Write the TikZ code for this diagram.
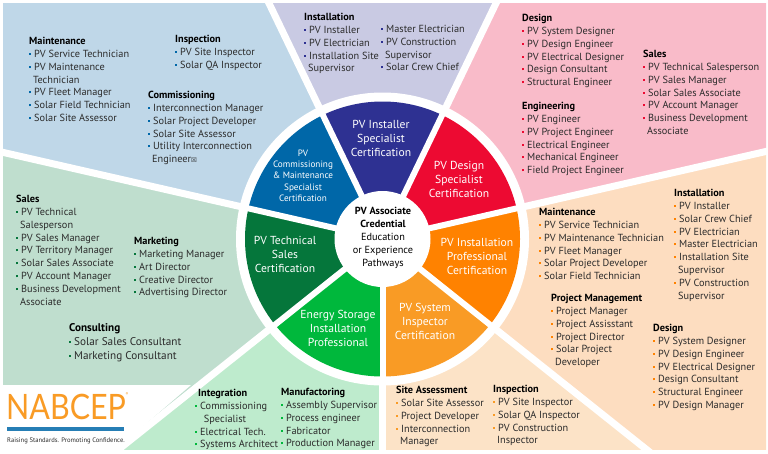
\documentclass[tikz,border=0pt]{standalone}
\usepackage{fontspec}
\setmainfont{PT Sans}
\newfontfamily\logofont{Lato}
\newfontfamily\boxfont{DejaVu Sans}

\definecolor{regblue}{HTML}{BFD7E8}
\definecolor{regindigo}{HTML}{C9CAE3}
\definecolor{regred}{HTML}{F9BBC9}
\definecolor{regorange}{HTML}{FDDDC0}
\definecolor{regsand}{HTML}{FCE3C7}
\definecolor{reglime}{HTML}{BEEBCD}
\definecolor{regsage}{HTML}{BFDECE}
\definecolor{wedblue}{HTML}{0067A8}
\definecolor{wedindigo}{HTML}{2E3192}
\definecolor{wedred}{HTML}{ED0A32}
\definecolor{wedorange}{HTML}{FF8200}
\definecolor{wedsand}{HTML}{F99B25}
\definecolor{wedlime}{HTML}{00B83C}
\definecolor{wedsage}{HTML}{05763B}
\definecolor{bodytext}{HTML}{2B2B2B}

\newcommand{\hd}[1]{{\color{black}\bfseries #1}}
\newcommand{\bl}{\textcolor{bul}{\rule[2.5pt]{2pt}{2pt}}\hspace{3pt}}
\newcommand{\wrp}{\hspace{4pt}}

\tikzset{
    joblist/.style={anchor=north west, inner sep=0, yshift=-0.8pt, align=left, text=bodytext,
        font=\fontsize{10.3}{12.9}\selectfont,
        execute at begin node={\colorlet{bul}{#1}\strut}},
    wedgelabel/.style={inner sep=0, align=center, text=white,
        font=\fontsize{11.6}{14}\selectfont},
}

\begin{document}
\begin{tikzpicture}[x=1pt, y=-1pt]
    \useasboundingbox (0, 0) rectangle (768, 453);
    \coordinate (hub) at (382.5, 239);

    % background regions
    \begin{scope}
        \clip (3, 3) rectangle (766, 449);
        \foreach \col/\ang in {regsand/90, reglime/141.43, regsage/192.86, regblue/244.29, regindigo/295.71, regred/347.14, regorange/38.57} {
            \fill[\col] (hub) -- +(\ang:900) -- +({\ang - 51.43}:900) -- cycle;
        }
    \end{scope}
    \fill[white] (0, 385) -- (191, 385) -- (112, 453) -- (0, 453) -- cycle;

    \foreach \ang in {90, 141.43, 192.86, 244.29, 295.71, 347.14, 38.57} {
        \draw[white, line width=7pt] (hub) -- +(\ang:700);
    }
    \fill[white] (hub) circle (146.5);

    % wheel
    \begin{scope}
        \clip (hub) circle (137.5);
        \foreach \col/\ang in {wedsand/90, wedlime/141.43, wedsage/192.86, wedblue/244.29, wedindigo/295.71, wedred/347.14, wedorange/38.57} {
            \fill[\col] (hub) -- +(\ang:300) -- +({\ang - 51.43}:300) -- cycle;
        }
    \end{scope}
    \foreach \ang in {90, 141.43, 192.86, 244.29, 295.71, 347.14, 38.57} {
        \draw[white, line width=6pt] (hub) -- +(\ang:146);
    }
    \fill[white] (hub) circle (48);

    % wedge labels
    \node[wedgelabel] (installer) at (381, 138) {PV Installer\\Specialist\\Certification};
    \node[wedgelabel] (design) at (459, 179) {PV Design\\Specialist\\Certification};
    \node[wedgelabel] (installation) at (477, 256) {PV Installation\\Professional\\Certification};
    \node[wedgelabel] (inspector) at (425, 321) {PV System\\Inspector\\Certification};
    \node[wedgelabel] (storage) at (338, 328) {Energy Storage\\Installation\\Professional};
    \node[wedgelabel] (techsales) at (285, 254) {PV Technical\\Sales\\Certification};
    \node[wedgelabel, font=\fontsize{9.2}{11.3}\selectfont] (commissioning) at (303, 175.5) {PV\\Commissioning\\\& Maintenance\\Specialist\\Certification};
    \node[inner sep=0, align=center, text=black, font=\fontsize{10.3}{13}\selectfont] (associate) at (383, 238) {\textbf{PV Associate}\\\textbf{Credential}\\Education\\or Experience\\Pathways};

    % blue region
    \node[joblist=wedblue] (maintblue) at (29, 36) {\hd{Maintenance}\\\bl PV Service Technician\\\bl PV Maintenance\\\wrp Technician\\\bl PV Fleet Manager\\\bl Solar Field Technician\\\bl Solar Site Assessor};
    \node[joblist=wedblue] (inspblue) at (175, 34) {\hd{Inspection}\\\bl PV Site Inspector\\\bl Solar QA Inspector};
    \node[joblist=wedblue] (commblue) at (148, 90) {\hd{Commissioning}\\\bl Interconnection Manager\\\bl Solar Project Developer\\\bl Solar Site Assessor\\\bl Utility Interconnection\\\wrp Engineer{\boxfont\fontsize{6.5}{8}\selectfont ☒}};

    % indigo region
    \node[joblist=wedindigo] (instindigo) at (304, 12) {\hd{Installation}\\\bl PV Installer\\\bl PV Electrician\\\bl Installation Site\\\wrp Supervisor};
    \node[joblist=wedindigo] (moreindigo) at (381, 24) {\bl Master Electrician\\\bl PV Construction\\\wrp Supervisor\\\bl Solar Crew Chief};

    % red region
    \node[joblist=wedred] (desred) at (522, 13) {\hd{Design}\\\bl PV System Designer\\\bl PV Design Engineer\\\bl PV Electrical Designer\\\bl Design Consultant\\\bl Structural Engineer};
    \node[joblist=wedred] (engred) at (522, 101) {\hd{Engineering}\\\bl PV Engineer\\\bl PV Project Engineer\\\bl Electrical Engineer\\\bl Mechanical Engineer\\\bl Field Project Engineer};
    \node[joblist=wedred] (salesred) at (643, 49) {\hd{Sales}\\\bl PV Technical Salesperson\\\bl PV Sales Manager\\\bl Solar Sales Associate\\\bl PV Account Manager\\\bl Business Development\\\wrp Associate};

    % orange region
    \node[joblist=wedorange] (maintorange) at (539, 207) {\hd{Maintenance}\\\bl PV Service Technician\\\bl PV Maintenance Technician\\\bl PV Fleet Manager\\\bl Solar Project Developer\\\bl Solar Field Technician};
    \node[joblist=wedorange] (instorange) at (674, 188) {\hd{Installation}\\\bl PV Installer\\\bl Solar Crew Chief\\\bl PV Electrician\\\bl Master Electrician\\\bl Installation Site\\\wrp Supervisor\\\bl PV Construction\\\wrp Supervisor};
    \node[joblist=wedorange] (projorange) at (551, 293) {\hd{Project Management}\\\bl Project Manager\\\bl Project Assisstant\\\bl Project Director\\\bl Solar Project\\\wrp Developer};
    \node[joblist=wedorange] (desorange) at (653, 323) {\hd{Design}\\\bl PV System Designer\\\bl PV Design Engineer\\\bl PV Electrical Designer\\\bl Design Consultant\\\bl Structural Engineer\\\bl PV Design Manager};

    % sand region
    \node[joblist=wedsand] (sitesand) at (396, 385) {\hd{Site Assessment}\\\bl Solar Site Assessor\\\bl Project Developer\\\bl Interconnection\\\wrp Manager};
    \node[joblist=wedsand] (inspsand) at (493, 384) {\hd{Inspection}\\\bl PV Site Inspector\\\bl Solar QA Inspector\\\bl PV Construction\\\wrp Inspector};

    % lime region
    \node[joblist=wedlime] (integlime) at (195, 388) {\hspace{3pt}\hd{Integration}\\\bl Commissioning\\\wrp\hspace{2pt} Specialist\\\bl Electrical Tech.\\\bl Systems Architect};
    \node[joblist=wedlime] (manuflime) at (281, 387) {\hd{Manufactoring}\\\bl Assembly Supervisor\\\bl Process engineer\\\bl Fabricator\\\bl Production Manager};

    % sage region
    \node[joblist=wedsage] (salessage) at (16, 194) {\hd{Sales}\\\bl PV Technical\\\wrp Salesperson\\\bl PV Sales Manager\\\bl PV Territory Manager\\\bl Solar Sales Associate\\\bl PV Account Manager\\\bl Business Development\\\wrp Associate};
    \node[joblist=wedsage] (marksage) at (134, 236) {\hd{Marketing}\\\bl Marketing Manager\\\bl Art Director\\\bl Creative Director\\\bl Advertising Director};
    \node[joblist=wedsage, font=\fontsize{11.2}{14}\selectfont] (conssage) at (69, 322) {\hd{Consulting}\\\bl Solar Sales Consultant\\\bl Marketing Consultant};

    % logo
    \node[inner sep=0, anchor=west, text=wedsand, font=\logofont\fontsize{35}{35}\selectfont] (logoname) at (6, 406.5) {\scalebox{0.87}[1]{NABCEP}};
    \node[inner sep=0, text=wedsand, font=\fontsize{4}{4}\selectfont] (logomark) at (127, 394.5) {®};
    \fill[wedblue!85] (7, 427) rectangle (124, 430.5);
    \node[inner sep=0, anchor=west, text=bodytext, font=\fontsize{6.6}{8}\selectfont] (logotag) at (7, 441) {Raising Standards. Promoting Confidence.};
\end{tikzpicture}
\end{document}
